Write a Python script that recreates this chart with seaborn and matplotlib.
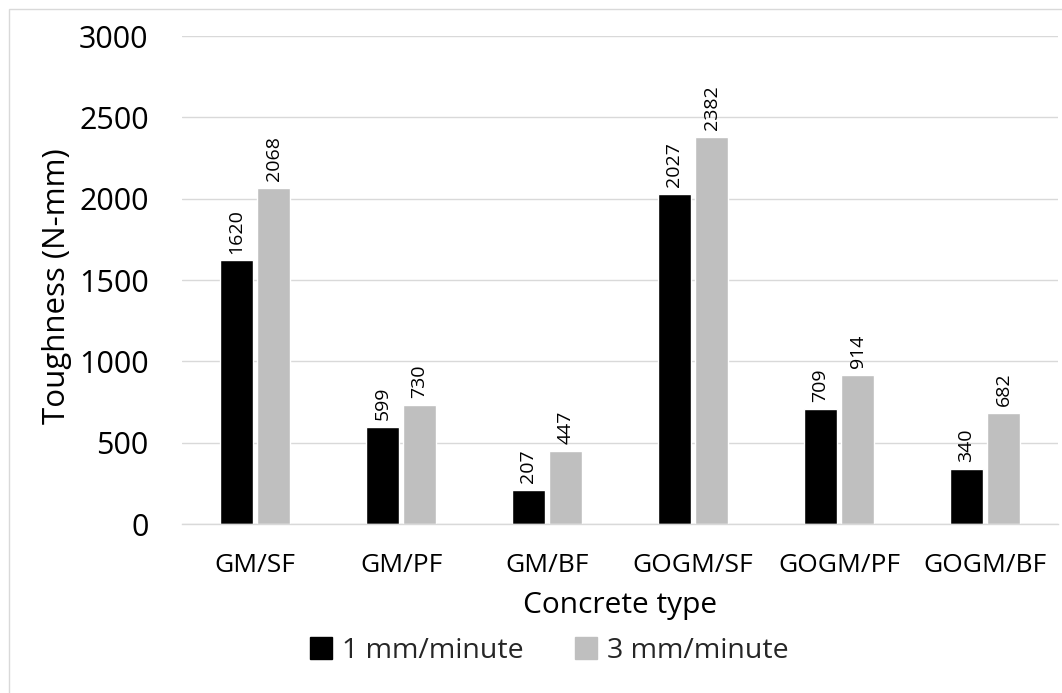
import matplotlib
matplotlib.use("Agg")
import matplotlib.pyplot as plt
import seaborn as sns
import pandas as pd
from matplotlib.patches import Rectangle

categories = ["GM/SF", "GM/PF", "GM/BF", "GOGM/SF", "GOGM/PF", "GOGM/BF"]
series_names = ["1 mm/minute", "3 mm/minute"]
rate1 = [1620, 599, 207, 2027, 709, 340]
rate3 = [2068, 730, 447, 2382, 914, 682]
y_ticks = [0, 500, 1000, 1500, 2000, 2500, 3000]

df = pd.DataFrame({
    "Concrete type": categories * 2,
    "Rate": [series_names[0]] * len(categories) + [series_names[1]] * len(categories),
    "Toughness": rate1 + rate3,
})

sns.set_theme(style="white")
plt.rcParams["font.family"] = ["Open Sans", "DejaVu Sans"]

W, H = 1062, 693
fig = plt.figure(figsize=(W / 100, H / 100), dpi=100)
ax_l, ax_r, ax_t, ax_b = 182, 1058, 36, 524
ax = fig.add_axes([ax_l / W, 1 - ax_b / H, (ax_r - ax_l) / W, (ax_b - ax_t) / H])

sns.barplot(data=df, x="Concrete type", y="Toughness", hue="Rate",
            palette=["#000000", "#BFBFBF"], width=0.51, gap=0.11,
            saturation=1, ax=ax, legend=True)

for cont in ax.containers:
    ax.bar_label(cont, fmt="%d", rotation=90, padding=5, fontsize=14, color="#000000")

ax.set_ylim(0, 3000)
ax.set_yticks(y_ticks)
ax.set_yticklabels([str(v) for v in y_ticks], fontsize=22, color="#000000")
ax.tick_params(axis="y", length=0, pad=24)
ax.tick_params(axis="x", length=0, pad=21, labelsize=19, labelcolor="#000000")
ax.yaxis.grid(True, color="#D9D9D9", linewidth=1)
ax.set_axisbelow(True)
for s in ["top", "right", "left"]:
    ax.spines[s].set_visible(False)
ax.spines["bottom"].set_color("#D9D9D9")
ax.spines["bottom"].set_linewidth(1)

ax.set_ylabel("Toughness (N-mm)", fontsize=22.5, color="#000000", va="center", ha="center")
ax.yaxis.set_label_coords(-(ax_l - 57) / (ax_r - ax_l), (ax_b - 286) / (ax_b - ax_t))
ax.set_xlabel("Concrete type", fontsize=21.5, color="#000000", va="center", ha="center")
ax.xaxis.set_label_coords(0.5, -(606 - ax_b) / (ax_b - ax_t))

ax.legend_.remove()
handles = [Rectangle((0, 0), 1, 1, color="#000000"), Rectangle((0, 0), 1, 1, color="#BFBFBF")]
fig.legend(handles, series_names, loc="center", bbox_to_anchor=(549 / W, 1 - 651 / H),
           ncol=2, frameon=False, fontsize=20.5, handlelength=0.77, handleheight=0.77,
           handletextpad=0.35, columnspacing=1.8, borderpad=0, borderaxespad=0)

fig.patches.append(Rectangle((9 / W, -0.01), 1.0, 1 - 9 / H + 0.01, transform=fig.transFigure,
                             fill=False, edgecolor="#D9D9D9", linewidth=1))

fig.savefig("out.png", dpi=100, facecolor="white")
